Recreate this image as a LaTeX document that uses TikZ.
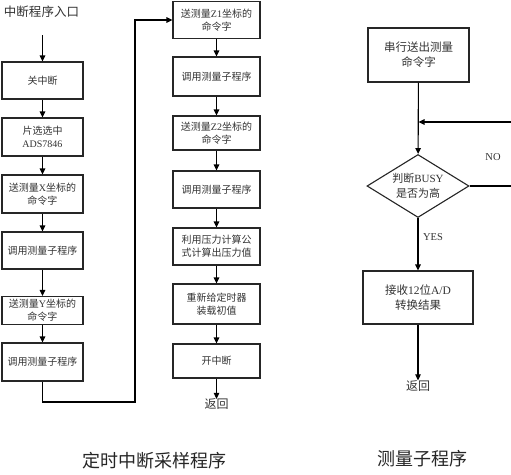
\documentclass[tikz,border=0pt]{standalone}
\usepackage{fontspec}
\setmainfont{Liberation Serif}
\newfontfamily\cjk{Noto Sans CJK SC}
\newcommand\zh[1]{{\cjk #1}}
\usetikzlibrary{shapes.geometric,arrows.meta}
\begin{document}
\begin{tikzpicture}[x=1pt,y=-1pt,
  box/.style={draw=black!85, line width=1.1pt, fill=white, align=center,
    font=\fontsize{10}{13}\selectfont, text=black!80, inner sep=1pt},
  lbox/.style={box, minimum width=81pt},
  mbox/.style={box, minimum width=87pt},
  rbox/.style={box, font=\fontsize{11.5}{15}\selectfont},
  conn/.style={draw=black, line width=1.1pt, -{Triangle[length=6pt,width=5.5pt]}},
  plain/.style={draw=black, line width=1.1pt},
  lbl/.style={text=black!80, inner sep=0pt},
  captext/.style={text=black!85, inner sep=0pt, font=\fontsize{18}{20}\selectfont\cjk}]
\useasboundingbox (0,0) rectangle (511,474);
\fill[white] (0,0) rectangle (511,474);

% ---------- left column ----------
\node[lbl, font=\fontsize{12.5}{14}\selectfont\cjk] (entry) at (41.5,12) {中断程序入口};
\coordinate (e0) at (42.5,35);
\node[lbox, minimum height=37pt] (a1) at (42.5,80.5) {\zh{关中断}};
\node[lbox, minimum height=38pt] (a2) at (42.5,137) {\zh{片选选中}\\ADS7846};
\node[lbox, minimum height=38pt] (a3) at (42.5,194) {\zh{送测量}X\zh{坐标的}\\\zh{命令字}};
\node[lbox, minimum height=37pt] (a4) at (42.5,250.5) {\zh{调用测量子程序}};
\node[lbox, minimum height=28pt] (a5) at (42.5,310.5) {\zh{送测量}Y\zh{坐标的}\\\zh{命令字}};
\node[lbox, minimum height=38pt] (a6) at (42.5,362) {\zh{调用测量子程序}};
\draw[conn] (e0) -- (a1);
\draw[conn] (a1) -- (a2);
\draw[conn] (a2) -- (a3);
\draw[conn] (a3) -- (a4);
\draw[conn] (a4) -- (a5);
\draw[conn] (a5) -- (a6);

% ---------- middle column ----------
\node[mbox, minimum height=37pt] (m1) at (216.5,20) {\zh{送测量}Z1\zh{坐标的}\\\zh{命令字}};
\node[mbox, minimum height=39pt] (m2) at (216.5,76.5) {\zh{调用测量子程序}};
\node[mbox, minimum height=34pt] (m3) at (216.5,133) {\zh{送测量}Z2\zh{坐标的}\\\zh{命令字}};
\node[mbox, minimum height=37pt] (m4) at (216.5,189.5) {\zh{调用测量子程序}};
\node[mbox, minimum height=37pt] (m5) at (216.5,246.5) {\zh{利用压力计算公}\\\zh{式计算出压力值}};
\node[mbox, minimum height=40pt] (m6) at (216.5,304) {\zh{重新给定时器}\\\zh{装载初值}};
\node[mbox, minimum height=34pt] (m7) at (216.5,361) {\zh{开中断}};
\node[lbl, font=\fontsize{12}{14}\selectfont\cjk] (ret1) at (216.5,404.5) {返回};
\draw[conn] (m1) -- (m2);
\draw[conn] (m2) -- (m3);
\draw[conn] (m3) -- (m4);
\draw[conn] (m4) -- (m5);
\draw[conn] (m5) -- (m6);
\draw[conn] (m6) -- (m7);
\draw[conn] (m7) -- (ret1);

% loop from left column to middle column
\coordinate (l1) at (135,402);
\draw[conn] (a6.south) |- (l1) |- (m1.west);

% ---------- right column ----------
\node[rbox, minimum width=101pt, minimum height=54pt] (r1) at (418.5,55) {\zh{串行送出测量}\\\zh{命令字}};
\node[diamond, draw=black!85, line width=1.1pt, fill=white, inner sep=0pt, aspect=1.6,
  minimum width=102pt, minimum height=63pt, align=center, text=black!80,
  font=\fontsize{11}{15}\selectfont] (d1) at (418,186) {\zh{判断}BUSY\\\zh{是否为高}};
\node[rbox, minimum width=110pt, minimum height=53pt] (r2) at (418,297.5) {\zh{接收}12\zh{位}A/D\\\zh{转换结果}};
\node[lbl, font=\fontsize{12}{14}\selectfont\cjk] (ret2) at (418,386) {返回};
\node[lbl, font=\fontsize{10.5}{12}\selectfont] (yes) at (433,237) {YES};
\node[lbl, font=\fontsize{10.5}{12}\selectfont] (no) at (493,157) {NO};
\coordinate (rr1) at (511,186);
\coordinate (rr2) at (511,122);
\coordinate (rj) at (418.5,122);
\draw[conn] (r1) -- (d1);
\draw[plain] (d1.east) -- (rr1);
\draw[conn] (rr2) -- (rj);
\draw[conn] (d1) -- (r2);
\draw[conn] (r2) -- (ret2);

% ---------- captions ----------
\node[captext] (cap1) at (154,461) {定时中断采样程序};
\node[captext] (cap2) at (422,459) {测量子程序};
\end{tikzpicture}
\end{document}
